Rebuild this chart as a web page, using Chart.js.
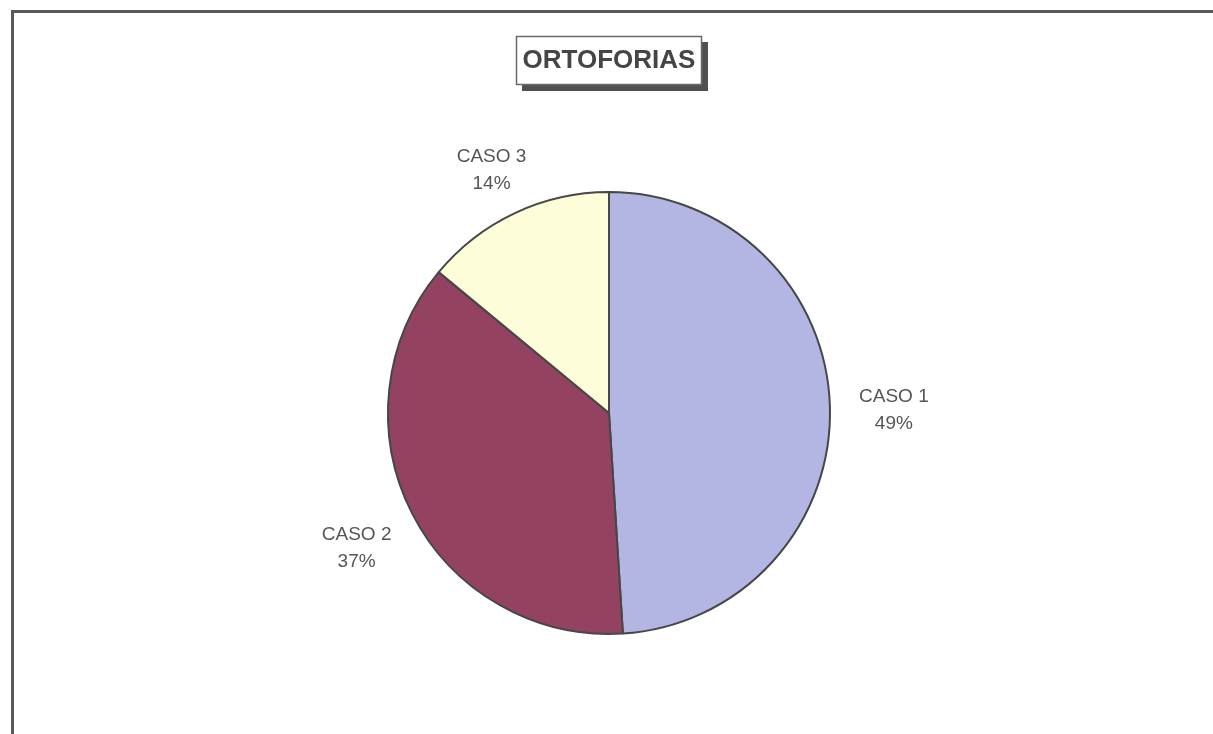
<!DOCTYPE html>
<html>
<head>
<meta charset="utf-8">
<script src="https://cdn.jsdelivr.net/npm/chart.js@4/dist/chart.umd.min.js"></script>
<style>
  html, body { margin: 0; padding: 0; background: #fff; }
  #wrap { width: 1213px; height: 734px; position: relative; }
</style>
</head>
<body>
<div id="wrap"><canvas id="chart"></canvas></div>
<script>
"use strict";

// ── Data ─────────────────────────────────────────────────────────────────────

const TITLE = "ORTOFORIAS";
const labels = ["CASO 1", "CASO 2", "CASO 3"];
const values = [49, 37, 14];
const colors = ["#b3b6e2", "#934262", "#fdfdd9"];

// ── Plugins ──────────────────────────────────────────────────────────────────

const framePlugin = {
  id: "frame",
  beforeDraw(chart) {
    const { ctx } = chart;
    ctx.save();
    ctx.strokeStyle = "#5a5a5a";
    ctx.lineWidth = 3;
    ctx.beginPath();
    ctx.moveTo(12.5, 734);
    ctx.lineTo(12.5, 11.5);
    ctx.lineTo(1213, 11.5);
    ctx.stroke();

    // title box with drop shadow
    ctx.fillStyle = "#505050";
    ctx.fillRect(522, 42, 186, 49);
    ctx.fillStyle = "#fff";
    ctx.fillRect(516, 36, 186, 49);
    ctx.strokeStyle = "#6a6a6a";
    ctx.lineWidth = 1.5;
    ctx.strokeRect(516.5, 36.5, 185, 48);
    ctx.fillStyle = "#454545";
    ctx.font = "bold 26px 'Liberation Sans', Arial, sans-serif";
    ctx.textAlign = "center";
    ctx.textBaseline = "middle";
    ctx.fillText(TITLE, 609, 61);
    ctx.restore();
  },
};

const labelPlugin = {
  id: "sliceLabels",
  afterDatasetsDraw(chart) {
    const { ctx } = chart;
    const meta = chart.getDatasetMeta(0);
    const total = values.reduce((a, b) => a + b, 0);
    ctx.save();
    ctx.fillStyle = "#555";
    ctx.font = "19px 'Liberation Sans', Arial, sans-serif";
    ctx.textAlign = "center";
    ctx.textBaseline = "middle";
    meta.data.forEach((arc, i) => {
      const mid = (arc.startAngle + arc.endAngle) / 2;
      const d = arc.outerRadius + 48 + 16 * Math.abs(Math.cos(mid));
      const x = arc.x + Math.cos(mid) * d;
      const y = arc.y + Math.sin(mid) * d + 6;
      const pct = Math.round((values[i] / total) * 100) + "%";
      ctx.fillText(labels[i], x, y - 13);
      ctx.fillText(pct, x, y + 14);
    });
    ctx.restore();
  },
};

// ── Chart ────────────────────────────────────────────────────────────────────

new Chart(document.getElementById("chart"), {
  type: "pie",
  data: {
    labels,
    datasets: [{
      data: values,
      backgroundColor: colors,
      borderColor: "#474747",
      borderWidth: 2,
    }],
  },
  options: {
    responsive: true,
    maintainAspectRatio: false,
    animation: false,
    layout: { padding: { left: 387, right: 382, top: 191, bottom: 99 } },
    plugins: {
      legend: { display: false },
      tooltip: { enabled: false },
    },
  },
  plugins: [framePlugin, labelPlugin],
});
</script>
</body>
</html>
